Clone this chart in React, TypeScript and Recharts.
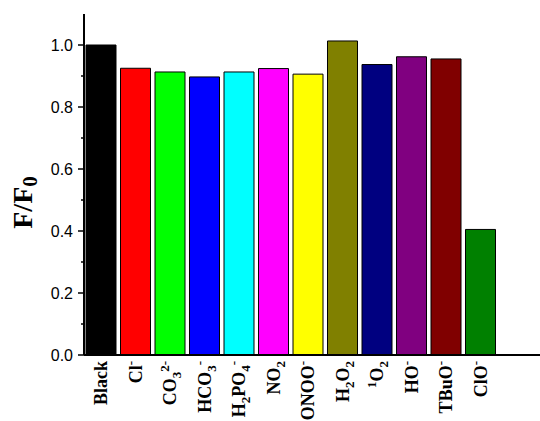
import React from 'react';
import { BarChart, Bar, XAxis, YAxis, Cell } from 'recharts';

const categories = ['Black', 'Cl^-', 'CO_3^{2-}', 'HCO_3^-', 'H_2PO_4^-', 'NO_2', 'ONOO^-', 'H_2O_2', '^1O_2', 'HO^-', 'TBuO^-', 'ClO^-'];
const values = [1.0, 0.925, 0.913, 0.897, 0.913, 0.924, 0.906, 1.013, 0.937, 0.962, 0.955, 0.405];
const colors = ['#000000', '#FF0000', '#00FF00', '#0000FF', '#00FFFF', '#FF00FF', '#FFFF00', '#808000', '#000080', '#800080', '#800000', '#008000'];
const yTicks = [0, 0.1, 0.2, 0.3, 0.4, 0.5, 0.6, 0.7, 0.8, 0.9, 1.0];
const yLabel = 'F/F';
const yLabelSub = '0';

const data = categories.map((c, i) => ({ name: c, value: values[i] }));

type Seg = { t: string; k: 'n' | 'sub' | 'sup' };
function parseLabel(s: string): Seg[] {
  const segs: Seg[] = [];
  let i = 0;
  let buf = '';
  while (i < s.length) {
    const c = s[i];
    if (c === '_' || c === '^') {
      if (buf) { segs.push({ t: buf, k: 'n' }); buf = ''; }
      let t: string;
      if (s[i + 1] === '{') {
        const j = s.indexOf('}', i + 2);
        t = s.slice(i + 2, j);
        i = j + 1;
      } else {
        t = s[i + 1];
        i += 2;
      }
      segs.push({ t, k: c === '_' ? 'sub' : 'sup' });
    } else {
      buf += c;
      i++;
    }
  }
  if (buf) segs.push({ t: buf, k: 'n' });
  return segs;
}

const SERIF = "'Liberation Serif', 'Times New Roman', serif";
const SANS = "'Liberation Sans', Arial, sans-serif";

const XTick = (props: any) => {
  const { x, y, payload } = props;
  const segs = parseLabel(String(payload.value));
  let cur = 0;
  return (
    <text
      transform={`translate(${x + 6},${y + 6}) rotate(-90)`}
      textAnchor="end"
      fontFamily={SERIF}
      fontWeight="bold"
      fontSize={18}
      fill="#000"
    >
      {segs.map((s, i) => {
        const target = s.k === 'sub' ? 5 : s.k === 'sup' ? -7 : 0;
        const dy = target - cur;
        cur = target;
        return (
          <tspan key={i} dy={dy} fontSize={s.k === 'n' ? 18 : 13}>
            {s.t}
          </tspan>
        );
      })}
    </text>
  );
};

const YTick = (props: any) => {
  const { x, y, payload } = props;
  const v = Number(payload.value);
  const major = Math.round(v * 10) % 2 === 0;
  return (
    <g>
      <line x1={x - (major ? 6 : 3)} x2={x} y1={y} y2={y} stroke="#000" strokeWidth={1.5} />
      {major && (
        <text x={x - 11} y={y} dy={5.5} textAnchor="end" fontFamily={SANS} fontSize={16} fill="#000">
          {v.toFixed(1)}
        </text>
      )}
    </g>
  );
};

const YLabel = (props: any) => {
  const vb = props.viewBox || { x: 0, y: 14, width: 84, height: 341 };
  const cx = vb.x + 32;
  const cy = vb.y + vb.height / 2 + 18;
  return (
    <text
      transform={`translate(${cx},${cy}) rotate(-90)`}
      textAnchor="middle"
      fontFamily={SERIF}
      fontWeight="bold"
      fontSize={28}
      fill="#000"
    >
      {yLabel}
      <tspan dy={5} fontSize={21}>{yLabelSub}</tspan>
    </text>
  );
};

export default function App() {
  return (
    <div style={{ position: 'absolute', left: 0, top: 0, width: 540, height: 421, background: '#fff' }}>
      <BarChart width={540} height={421} data={data} margin={{ top: 14, right: 0, bottom: 0, left: 0 }} barSize={30}>
        <XAxis
          dataKey="name"
          height={66}
          padding={{ left: 0, right: 42 }}
          axisLine={{ stroke: '#000', strokeWidth: 2 }}
          tickLine={false}
          tickSize={0}
          tickMargin={0}
          interval={0}
          tick={<XTick />}
        />
        <YAxis
          width={84}
          domain={[0, 1.1]}
          ticks={yTicks}
          interval={0}
          allowDataOverflow
          axisLine={{ stroke: '#000', strokeWidth: 2 }}
          tickLine={false}
          tickSize={0}
          tickMargin={0}
          tick={<YTick />}
          label={{ content: <YLabel /> }}
        />
        <Bar dataKey="value" isAnimationActive={false} stroke="#000" strokeWidth={1}>
          {data.map((d, i) => (
            <Cell key={d.name} fill={colors[i]} />
          ))}
        </Bar>
      </BarChart>
    </div>
  );
}
